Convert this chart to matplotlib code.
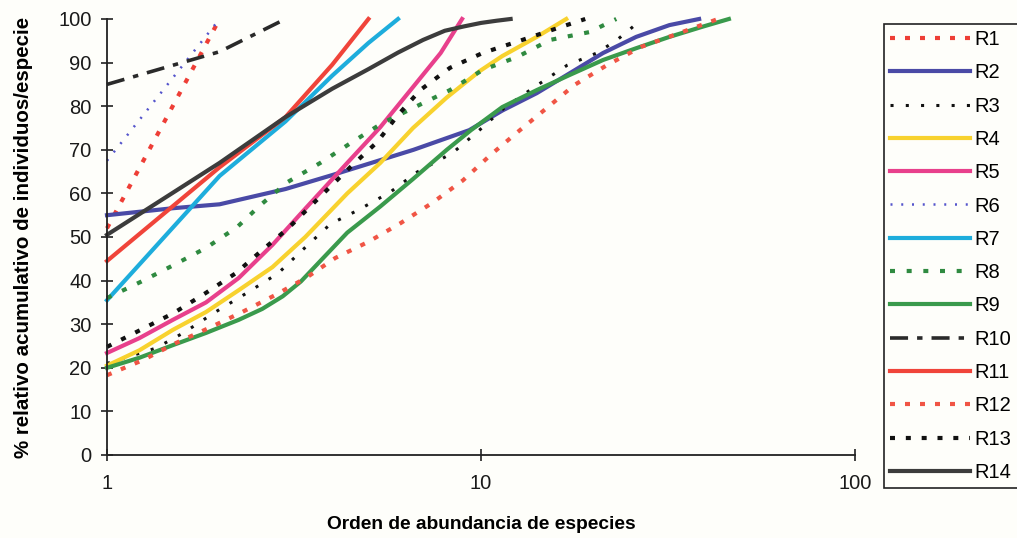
import matplotlib
matplotlib.use("Agg")
import matplotlib.pyplot as plt
from matplotlib.ticker import NullLocator

plt.rcParams['font.family'] = ['Liberation Sans', 'DejaVu Sans']

# ---- data (rank of species abundance, cumulative %) ----
r1_x = [1, 2]
r1_y = [52, 100]
r2_x = [1, 1.5, 2, 3, 4, 6.6, 9.3, 11.4, 14.1, 17.3, 21.2, 26, 31.9, 38.3]
r2_y = [55, 56.6, 57.5, 61, 64.2, 70, 74.5, 79, 83, 87.6, 92.2, 95.9, 98.6, 100]
r3_x = [1, 1.35, 1.6, 1.95, 2.39, 2.87, 3.33, 3.96, 4.7, 5.72, 6.75, 8.4, 9.9, 11.5, 13.9, 17, 20.4, 23.1, 27]
r3_y = [21, 24.5, 28, 32.8, 37.4, 41.7, 47, 53, 56.2, 60.3, 64.9, 69.3, 74.5, 79.5, 84.4, 89.4, 92.2, 95.2, 100]
r4_x = [1, 1.22, 1.5, 1.84, 2.25, 2.77, 3.39, 4.39, 5.38, 6.58, 8.1, 9.9, 11.4, 14.1, 16.9]
r4_y = [20.5, 24, 28.7, 32.8, 37.8, 43.1, 50, 60, 67, 75, 82, 88, 91.5, 95.9, 100]
r5_x = [1, 1.22, 1.5, 1.84, 2.25, 2.77, 3.39, 4.39, 5.38, 6.58, 7.8, 8.9]
r5_y = [23.4, 26.8, 31, 35, 40.6, 48.2, 56.5, 67, 75.2, 84.4, 92.2, 100]
r6_x = [1, 2]
r6_y = [67.5, 100]
r7_x = [1, 2, 3, 4, 5, 6]
r7_y = [35.5, 64, 76.5, 87, 94.5, 100]
r8_x = [1, 1.23, 1.51, 1.84, 2.23, 2.57, 3.04, 3.72, 4.53, 5.44, 6.66, 8.26, 10.1, 12.5, 15.3, 19.5, 23]
r8_y = [36, 39.7, 43.6, 47.5, 52.3, 57.3, 62.6, 67, 71.8, 76.1, 79.8, 83.7, 88.3, 91.3, 95.2, 97, 100]
r9_x = [1, 1.22, 1.5, 1.84, 2.25, 2.6, 2.95, 3.3, 3.7, 4.39, 5.38, 6.58, 8.1, 9.4, 11.4, 14.1, 17.3, 21.2, 26, 31.9, 39, 46]
r9_y = [20, 22.3, 25.2, 28, 31, 33.5, 36.4, 39.8, 44.3, 51, 57, 63.3, 70, 74.5, 79.8, 83.7, 87.2, 90.6, 93.3, 95.9, 98.2, 100]
r10_x = [1, 2, 3]
r10_y = [85, 92.5, 100]
r11_x = [1, 2, 3, 4, 5]
r11_y = [44.5, 66, 77.5, 89.5, 100]
r12_x = [1, 1.25, 1.53, 1.87, 2.3, 2.82, 3.43, 4.08, 5, 6.1, 7.4, 8.95, 10.6, 12.5, 15, 17.8, 21.7, 26.8, 34, 43]
r12_y = [18.3, 21.8, 25.7, 29.1, 32.8, 36.7, 40.8, 45.2, 48.9, 53.2, 57.8, 63, 68.8, 74, 79.6, 84.9, 89.4, 93.6, 96.8, 100]
r13_x = [1, 1.23, 1.51, 1.84, 2.21, 2.6, 3.06, 3.57, 4.47, 5.28, 6, 6.88, 8.26, 10.1, 12.9, 16, 19]
r13_y = [24.8, 28.7, 32.6, 37.2, 41.7, 47, 52.1, 57.8, 66, 71.8, 78, 83.7, 88.8, 92.2, 95.2, 97.9, 100]
r14_x = [1, 2, 3, 4, 5, 6, 7, 8, 9, 10, 11, 12]
r14_y = [50.5, 67, 77.5, 84, 88.5, 92.3, 95.2, 97.3, 98.3, 99.1, 99.6, 100]

labels = ["R1", "R2", "R3", "R4", "R5", "R6", "R7", "R8", "R9", "R10", "R11", "R12", "R13", "R14"]
xs = [r1_x, r2_x, r3_x, r4_x, r5_x, r6_x, r7_x, r8_x, r9_x, r10_x, r11_x, r12_x, r13_x, r14_x]
ys = [r1_y, r2_y, r3_y, r4_y, r5_y, r6_y, r7_y, r8_y, r9_y, r10_y, r11_y, r12_y, r13_y, r14_y]

styles = [
    dict(color='#EE3E36', lw=3.0, ls=(0, (1.2, 2.4))),
    dict(color='#4A4AA6', lw=3.0, ls='-'),
    dict(color='#111111', lw=2.2, ls=(0, (1.0, 4.0))),
    dict(color='#F8D22E', lw=3.0, ls='-'),
    dict(color='#E8408C', lw=3.0, ls='-'),
    dict(color='#5555CC', lw=1.8, ls=(0, (0.8, 3.5))),
    dict(color='#1EADDC', lw=3.0, ls='-'),
    dict(color='#2F8A40', lw=3.0, ls=(0, (1.2, 2.8))),
    dict(color='#3A9A4C', lw=3.0, ls='-'),
    dict(color='#2A2A2A', lw=2.6, ls=(0, (5.0, 2.5, 1.5, 2.5))),
    dict(color='#F0443A', lw=3.0, ls='-'),
    dict(color='#F05545', lw=3.0, ls=(0, (1.2, 2.4))),
    dict(color='#111111', lw=3.0, ls=(0, (1.2, 2.6))),
    dict(color='#3C3C3C', lw=3.0, ls='-'),
]

fig = plt.figure(figsize=(10.17, 5.38), dpi=100, facecolor='#FEFEFA')
ax = fig.add_axes([107 / 1017, 1 - 455 / 538, (855 - 107) / 1017, (455 - 19) / 538])
ax.set_facecolor('#FEFEFA')

for x, y, lab, st in zip(xs, ys, labels, styles):
    ax.plot(x, y, label=lab, color=st['color'], lw=st['lw'], linestyle=st['ls'], clip_on=False)

ax.set_xscale('log')
ax.set_xlim(1, 100)
ax.set_ylim(0, 100)
ax.set_xticks([1, 10, 100])
ax.set_xticklabels(['1', '10', '100'])
ax.xaxis.set_minor_locator(NullLocator())
ax.set_yticks(range(0, 101, 10))

for s in ['top', 'right']:
    ax.spines[s].set_visible(False)
for s in ['left', 'bottom']:
    ax.spines[s].set_linewidth(1.3)
    ax.spines[s].set_color('#222222')

ax.tick_params(axis='both', direction='inout', length=8, width=1.2, colors='#222222',
               labelsize=14.5, labelcolor='#1a1a1a')
ax.tick_params(axis='y', pad=7)
ax.tick_params(axis='x', pad=10)

ax.set_xlabel('Orden de abundancia de especies', fontsize=13.8, fontweight='bold', labelpad=16)
ax.set_ylabel('% relativo acumulativo de individuos/especie', fontsize=14.8, fontweight='bold', labelpad=18)

leg = ax.legend(loc='upper left', bbox_to_anchor=(884 / 1017, 1 - 24 / 538),
                bbox_transform=fig.transFigure, borderaxespad=0, fancybox=False,
                edgecolor='#222222', framealpha=1, facecolor='#FEFEFA',
                fontsize=14.5, handlelength=3.95, handletextpad=0.25,
                labelspacing=0.71, borderpad=0.3)
leg.get_frame().set_linewidth(1.2)

fig.savefig('out.png', dpi=100, facecolor=fig.get_facecolor())
